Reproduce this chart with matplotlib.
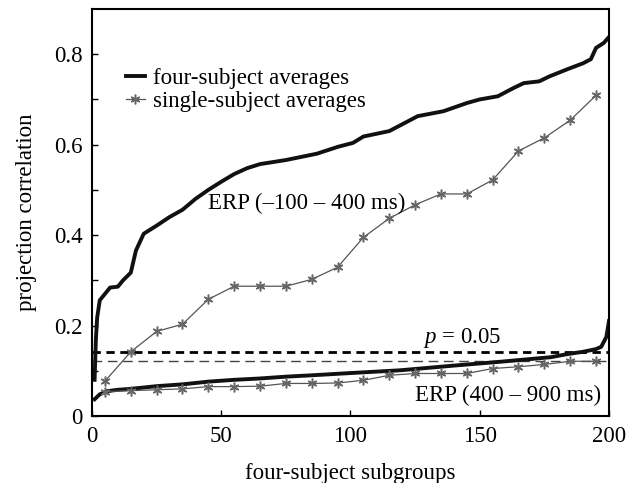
import numpy as np
import matplotlib
matplotlib.use('Agg')
import matplotlib.pyplot as plt

plt.rcParams['font.family'] = ['Liberation Serif', 'DejaVu Serif']
plt.rcParams['mathtext.fontset'] = 'custom'
plt.rcParams['mathtext.it'] = 'Liberation Serif:italic'

# four-subject averages, ERP (-100 - 400 ms)
early_four_x = [1, 1.5, 2, 3, 5, 7, 10, 12, 15, 17, 20, 25, 30, 35, 40, 45, 50, 55, 60,
                65, 75, 87, 95, 101, 105, 115, 120, 126, 136, 145, 150, 157, 163, 167,
                173, 177, 184, 190, 193, 195, 198, 200]
early_four_y = [0.08, 0.17, 0.218, 0.256, 0.27, 0.284, 0.286, 0.30, 0.317, 0.366, 0.403,
                0.421, 0.44, 0.456, 0.48, 0.50, 0.518, 0.535, 0.548, 0.557, 0.566, 0.58,
                0.595, 0.604, 0.618, 0.63, 0.645, 0.663, 0.674, 0.692, 0.70, 0.707, 0.725,
                0.736, 0.74, 0.751, 0.767, 0.78, 0.789, 0.814, 0.825, 0.838]

# four-subject averages, ERP (400 - 900 ms)
late_four_x = [1, 3, 6, 10, 15, 25, 35, 45, 55, 65, 75, 85, 100, 119, 139, 158, 177.5,
               184, 190, 195, 197, 199, 200]
late_four_y = [0.037, 0.048, 0.055, 0.058, 0.06, 0.066, 0.07, 0.076, 0.08, 0.083, 0.087,
               0.09, 0.095, 0.101, 0.111, 0.12, 0.13, 0.137, 0.142, 0.148, 0.153, 0.175,
               0.21]

# single-subject averages
single_x = [5, 15, 25, 35, 45, 55, 65, 75, 85, 95, 105, 115, 125, 135, 145, 155, 165,
            175, 185, 195]
early_single = [0.077, 0.142, 0.187, 0.203, 0.258, 0.287, 0.287, 0.287, 0.302, 0.329,
                0.395, 0.437, 0.467, 0.491, 0.491, 0.522, 0.586, 0.615, 0.654, 0.709]
late_single = [0.054, 0.056, 0.058, 0.06, 0.065, 0.065, 0.066, 0.072, 0.072, 0.073,
               0.079, 0.09, 0.094, 0.094, 0.094, 0.105, 0.109, 0.114, 0.121, 0.121]

p_four = 0.142
p_single = 0.121

FS = 16.5
fig = plt.figure(figsize=(6.35, 4.83), dpi=100)
ax = fig.add_axes([0.1449, 0.1387, 0.8141, 0.8427])

gray = '#555555'
star = (6, 2, 0)  # asterisk marker
ax.axhline(p_single, color='#444444', lw=1.0, dashes=(7, 4))
ax.axhline(p_four, color='black', lw=2.0, dashes=(3, 2))

ax.plot(early_four_x, early_four_y, color='#111111', lw=2.8, solid_joinstyle='round',
        label='four-subject averages')
ax.plot(late_four_x, late_four_y, color='#111111', lw=2.8, solid_joinstyle='round')
ax.plot(single_x, early_single, color=gray, lw=0.9, marker=star, ms=7, mew=1.1,
        mec='#666666', label='single-subject averages')
ax.plot(single_x, late_single, color=gray, lw=0.9, marker=star, ms=7, mew=1.1,
        mec='#666666')

ax.text(45, 0.47, 'ERP (\u2013100 \u2013 400 ms)', fontsize=FS, va='center', ha='left')
ax.text(197, 0.045, 'ERP (400 \u2013 900 ms)', fontsize=FS, va='center', ha='right')
ax.text(143, 0.147, '$p$ = 0.05', fontsize=FS, va='bottom', ha='center')

ax.set_xlim(0, 200)
ax.set_ylim(0, 0.9)
ax.set_xticks([0, 50, 100, 150, 200])
ax.set_xticklabels(['0', '50', '100', '150', '200'])
ax.set_yticks(np.arange(0, 0.85, 0.1))
ax.set_yticklabels(['0', '', '0.2', '', '0.4', '', '0.6', '', '0.8'])
ax.tick_params(direction='in', length=4, width=1, labelsize=FS, pad=7)
for s in ax.spines.values():
    s.set_linewidth(1.5)

ax.set_xlabel('four-subject subgroups', fontsize=FS, labelpad=12)
ax.set_ylabel('projection correlation', fontsize=FS, labelpad=12)

ax.legend(loc='upper left', bbox_to_anchor=(0.022, 0.912), frameon=False, fontsize=FS,
          handlelength=0.8, handletextpad=0.35, labelspacing=0.1, borderaxespad=0.6)

fig.savefig('out.png', dpi=100)
